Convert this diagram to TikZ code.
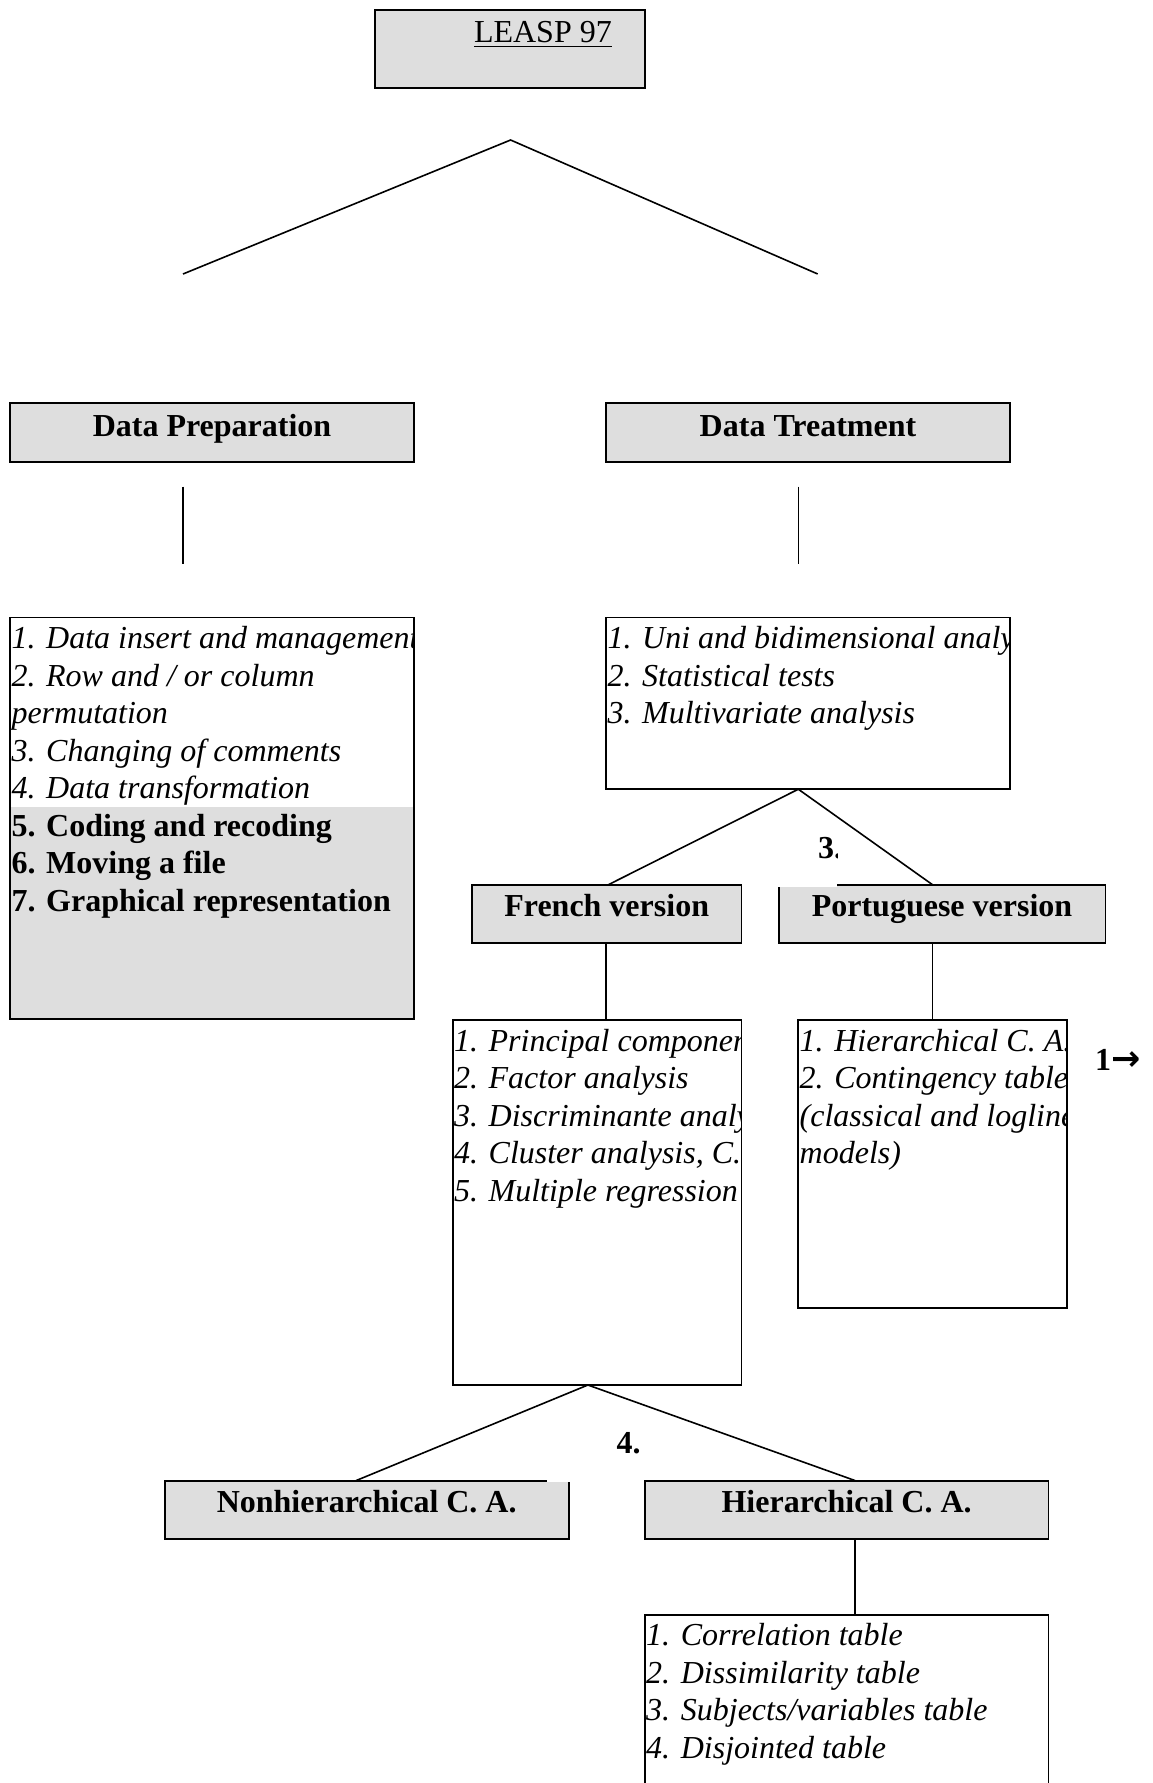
\documentclass[tikz,border=0pt]{standalone}
\usepackage{fontspec}
\setmainfont{Liberation Serif}
\newfontfamily\arrowfont{DejaVu Sans}
\usetikzlibrary{fit}
\definecolor{boxgray}{RGB}{222,222,222}
\begin{document}
\begin{tikzpicture}[x=0.5pt,y=-0.5pt,
  every node/.style={inner sep=0pt, outer sep=0pt},
  frame/.style={draw, line width=0.9pt},
  head/.style={frame, fill=boxgray},
  list/.style={fill=white},
  conn/.style={line width=0.8pt},
  tx/.style={anchor=base west, font=\fontsize{16}{18.75}\selectfont\itshape},
  bx/.style={anchor=base west, font=\fontsize{16}{18.75}\selectfont\bfseries},
  bt/.style={anchor=base, font=\fontsize{16}{18.75}\selectfont\bfseries},
  ]
\useasboundingbox[fill=white] (0,0) rectangle (1152,1783);

% ---------- connectors (free lines) ----------
\coordinate (a0) at (510.6,140);
\coordinate (aL) at (183,274);
\coordinate (aR) at (817.7,274);
\draw[conn] (aL) -- (a0) -- (aR);

\coordinate (v1a) at (183,486.7);
\coordinate (v1b) at (183,564);
\draw[conn] (v1a) -- (v1b);
\coordinate (v2a) at (798.3,486.7);
\coordinate (v2b) at (798.3,564);
\draw[conn] (v2a) -- (v2b);

\coordinate (b0) at (798.3,789.2);
\coordinate (bL) at (608.4,884.7);
\coordinate (bR) at (932.5,884.7);
\draw[conn] (bL) -- (b0) -- (bR);

\coordinate (c0) at (587.9,1385);
\coordinate (cL) at (356,1480.6);
\coordinate (cR) at (855.2,1480.6);
\draw[conn] (cL) -- (c0) -- (cR);

% ---------- heading boxes ----------
\node[head, fit={(375.3,10.2)(644.8,87.6)}] (leasp) {};
\node[anchor=base west, font=\fontsize{16}{18.75}\selectfont] (leaspt) at (474,42.5) {LEASP 97};
\draw[line width=0.9pt] ([yshift=-2pt]leaspt.base west) -- ([yshift=-2pt]leaspt.base east);

\node[head, fit={(10.2,402.6)(414,461.7)}] (dp) {};
\node[bt] (dpt) at (212,436.7) {Data Preparation};
\node[head, fit={(606.1,402.6)(1009.8,461.7)}] (dt) {};
\node[bt] (dtt) at (808,436.7) {Data Treatment};

\node[head, fit={(472,884.7)(741.5,942.7)}] (fr) {};
\node[bt] (frt) at (606.7,916.6) {French version};
\node[head, fit={(779,884.7)(1105.4,942.7)}] (pt) {};
\node[bt] (ptt) at (942,916.6) {Portuguese version};

\node[head, fit={(164.9,1480.6)(568.6,1538.6)}] (nh) {};
\node[bt] (nht) at (366.7,1512.5) {Nonhierarchical C. A.};
\node[head, fit={(644.8,1480.6)(1048.5,1538.6)}] (hi) {};
\node[bt] (hit) at (846.6,1512.5) {Hierarchical C. A.};

% vertical connectors between boxes
\coordinate (f1) at (606.1,942.7);
\coordinate (f2) at (606.1,1020);
\draw[conn] (f1) -- (f2);
\coordinate (p1) at (932.5,942.7);
\coordinate (p2) at (932.5,1020);
\draw[conn] (p1) -- (p2);
\coordinate (h1) at (855.2,1538.6);
\coordinate (h2) at (855.2,1614.8);
\draw[conn] (h1) -- (h2);

% ---------- list boxes ----------
% Data preparation list
\node[list, fit={(10.2,617.5)(414,1019)}] (dpl) {};
\fill[boxgray] (10.2,807) rectangle (414,1019);
\begin{scope}
\clip (dpl.north west) rectangle (dpl.south east);
\node[tx] (dp1) at (11.5,648.5) {1. Data insert and management};
\node[tx] (dp2) at (11.5,686) {2. Row and / or column};
\node[tx] (dp3) at (11.5,723.5) {permutation};
\node[tx] (dp4) at (11.5,761) {3. Changing of comments};
\node[tx] (dp5) at (11.5,798.5) {4. Data transformation};
\node[bx] (dp6) at (11.5,836) {5. Coding and recoding};
\node[bx] (dp7) at (11.5,873.5) {6. Moving a file};
\node[bx] (dp8) at (11.5,911) {7. Graphical representation};
\end{scope}
\draw[frame] (dpl.north west) rectangle (dpl.south east);

% Data treatment list
\node[list, fit={(606.1,617.5)(1009.8,789.2)}] (dtl) {};
\begin{scope}
\clip (dtl.north west) rectangle (dtl.south east);
\node[tx] (dt1) at (607.5,648.5) {1. Uni and bidimensional analys};
\node[tx] (dt2) at (607.5,686) {2. Statistical tests};
\node[tx] (dt3) at (607.5,723.5) {3. Multivariate analysis};
\end{scope}
\draw[frame] (dtl.north west) rectangle (dtl.south east);

% French list
\node[list, fit={(452.6,1020)(741.5,1385)}] (frl) {};
\begin{scope}
\clip (frl.north west) rectangle (frl.south east);
\node[tx] (fr1) at (454,1051) {1. Principal componen};
\node[tx] (fr2) at (454,1088.5) {2. Factor analysis};
\node[tx] (fr3) at (454,1126) {3. Discriminante analy};
\node[tx] (fr4) at (454,1163.5) {4. Cluster analysis, C.};
\node[tx] (fr5) at (454,1201) {5. Multiple regression};
\end{scope}
\draw[frame] (frl.north west) rectangle (frl.south east);

% Portuguese list
\node[list, fit={(798.3,1020)(1066.7,1307.8)}] (ptl) {};
\begin{scope}
\clip (ptl.north west) rectangle (ptl.south east);
\node[tx] (pt1) at (799.7,1051) {1. Hierarchical C. A.};
\node[tx] (pt2) at (799.7,1088.5) {2. Contingency table.};
\node[tx] (pt3) at (799.7,1126) {(classical and logline};
\node[tx] (pt4) at (799.7,1163.5) {models)};
\end{scope}
\draw[frame] (ptl.north west) rectangle (ptl.south east);

% Hierarchical list
\node[list, fit={(644.8,1614.8)(1048.5,1800)}] (hil) {};
\begin{scope}
\clip (hil.north west) rectangle (hil.south east);
\node[tx] (hi1) at (646.2,1645.5) {1. Correlation table};
\node[tx] (hi2) at (646.2,1683) {2. Dissimilarity table};
\node[tx] (hi3) at (646.2,1720.5) {3. Subjects/variables table};
\node[tx] (hi4) at (646.2,1758) {4. Disjointed table};
\end{scope}
\draw[frame] (hil.north west) rectangle (hil.south east);

% ---------- labels ----------
\node[fill=white, fit={(777,835)(837,886.6)}] (w3) {};
\begin{scope}
\clip (w3.north west) rectangle (w3.south east);
\node[bx] (l3) at (818,858.5) {3.};
\end{scope}

\node[fill=white, fit={(547,1430)(642,1481.6)}] (w4) {};
\node[bx] (l4) at (616.5,1453.5) {4.};

\node[bx] (l1) at (1095,1070.5) {1{\arrowfont\fontsize{17.5}{18}\selectfont→}};
\end{tikzpicture}
\end{document}
